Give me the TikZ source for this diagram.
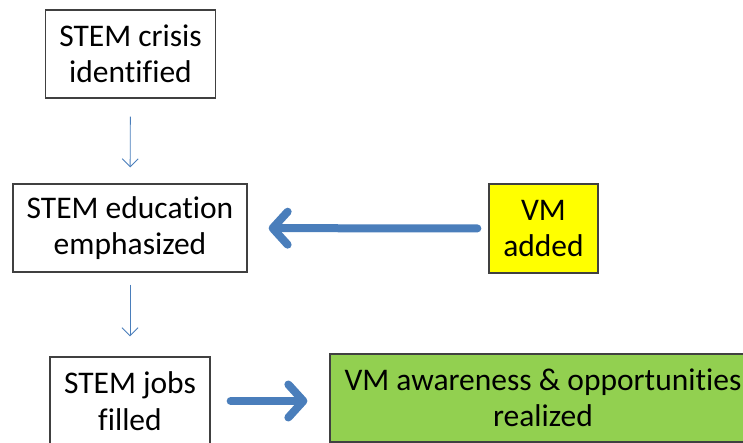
\documentclass[tikz,border=0pt]{standalone}
\usepackage{fontspec}
\setmainfont{Carlito}[Ligatures=NoCommon]
\usepackage{xcolor}
\usepackage{tikz}
\usetikzlibrary{arrows.meta}
\usetikzlibrary{positioning}
\definecolor{linkblue}{RGB}{74,126,187}
\definecolor{boxgray}{RGB}{64,64,64}
\definecolor{vmyellow}{RGB}{255,255,0}
\definecolor{vmgreen}{RGB}{146,208,80}

\begin{document}
\begin{tikzpicture}[
x=1pt,y=-1pt,
StepBox/.style={draw=boxgray,line width=1.3pt,fill=white,align=center,inner sep=0pt,
  font=\fontsize{31.5}{36.5}\selectfont},
ThinArrow/.style={draw=linkblue,line width=0.9pt,-{Straight Barb[length=8pt,width=16pt]}},
ThickArrow/.style={draw=linkblue,line width=8pt,line cap=round,
  -{Straight Barb[length=15pt,width=33pt,line cap=round,line join=round]}}
]
\useasboundingbox (0,0) rectangle (743,443);
\clip (0,0) rectangle (743,443);

\node[StepBox,minimum width=170pt,minimum height=88pt] (crisis) at (130.5,54) {STEM crisis\\identified};
\node[StepBox,minimum width=234pt,minimum height=88pt] (educ) at (130,228) {STEM education\\emphasized};
\node[StepBox,fill=vmyellow,minimum width=109pt,minimum height=89pt] (vm) at (543.5,228.5) {VM\\added};
\node[StepBox,minimum width=160pt,minimum height=88pt] (jobs) at (130,401) {STEM jobs\\filled};
\node[StepBox,fill=vmgreen,minimum width=426pt,minimum height=88pt] (aware) at (543,398) {VM awareness \& opportunities\\realized};

\draw[ThinArrow,shorten <=18pt,shorten >=16pt] (crisis) -- (educ);
\draw[ThinArrow,shorten <=12pt,shorten >=20pt] (educ) -- (jobs);

\draw[ThickArrow,shorten <=11pt,shorten >=21pt] (vm) -- (educ);
\draw[ThickArrow,shorten <=20pt,shorten >=22pt] (jobs) -- (jobs-|aware.west);

\end{tikzpicture}
\end{document}
